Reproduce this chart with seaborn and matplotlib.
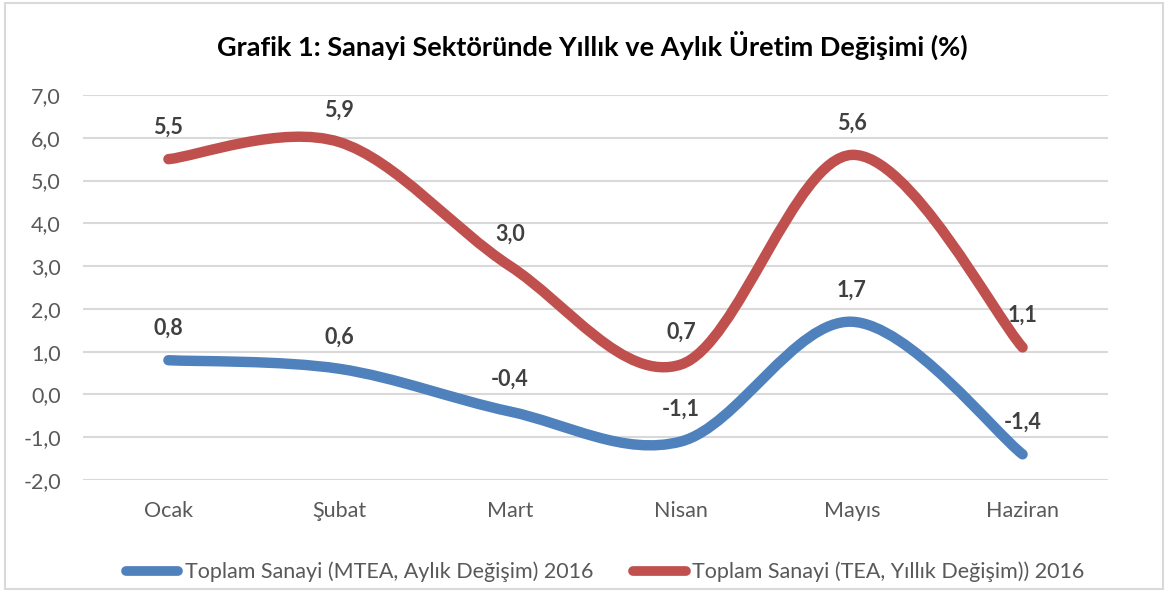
import matplotlib
matplotlib.use("Agg")
import matplotlib.pyplot as plt
from matplotlib.path import Path
from matplotlib.patches import PathPatch, Rectangle
from matplotlib.lines import Line2D
import numpy as np
import pandas as pd
import seaborn as sns

# ─────────────────────────────────────────────
# DATA
# ─────────────────────────────────────────────
months = ["Ocak", "Şubat", "Mart", "Nisan", "Mayıs", "Haziran"]
aylik = [0.8, 0.6, -0.4, -1.1, 1.7, -1.4]      # MTEA, monthly change
yillik = [5.5, 5.9, 3.0, 0.7, 5.6, 1.1]        # TEA, yearly change
series_names = ["Toplam Sanayi (MTEA, Aylık Değişim) 2016",
                "Toplam Sanayi (TEA, Yıllık Değişim)) 2016"]
yticks = [-2, -1, 0, 1, 2, 3, 4, 5, 6, 7]
title = "Grafik 1: Sanayi Sektöründe Yıllık ve Aylık Üretim Değişimi (%)"

BLUE = "#4F81BD"
RED = "#C0504D"
GRAY_TXT = "#595959"
LABEL_TXT = "#404040"
GRID = "#D9D9D9"
FS = 15.5

df = pd.concat([
    pd.DataFrame({"pos": range(len(months)), "value": aylik, "series": series_names[0]}),
    pd.DataFrame({"pos": range(len(months)), "value": yillik, "series": series_names[1]}),
])

sns.set_theme(style="white")
plt.rcParams["font.family"] = ["Lato", "DejaVu Sans"]


def smooth_path(x, y):
    # Excel-like smoothing: cubic bezier with catmull-rom control points
    pts = np.column_stack([x, y])
    n = len(pts)
    verts = [pts[0]]
    codes = [Path.MOVETO]
    for i in range(n - 1):
        p0 = pts[max(i - 1, 0)]
        p1 = pts[i]
        p2 = pts[i + 1]
        p3 = pts[min(i + 2, n - 1)]
        c1 = p1 + (p2 - p0) / 6.0
        c2 = p2 - (p3 - p1) / 6.0
        verts += [c1, c2, p2]
        codes += [Path.CURVE4] * 3
    return Path(verts, codes)


fig = plt.figure(figsize=(11.68, 5.92), dpi=100)
ax = fig.add_axes([83 / 1168, 112 / 592, 1025 / 1168, 385 / 592])

sns.lineplot(data=df, x="pos", y="value", hue="series",
             palette=[BLUE, RED], hue_order=series_names,
             linewidth=7, legend=False, sort=False, errorbar=None, ax=ax)

# replace straight segments with smoothed curves
for line in list(ax.lines):
    x, y = line.get_data()
    patch = PathPatch(smooth_path(np.asarray(x, float), np.asarray(y, float)),
                      fill=False, edgecolor=line.get_color(), lw=7.5,
                      capstyle="round", joinstyle="round", zorder=3)
    ax.add_patch(patch)
    line.set_visible(False)

# data labels
for vals in (aylik, yillik):
    for i, v in enumerate(vals):
        ax.annotate(f"{v:.1f}".replace(".", ","), (i, v),
                    xytext=(0, 23), textcoords="offset points",
                    ha="center", va="center", fontsize=FS,
                    fontweight="bold", color=LABEL_TXT, zorder=4)

ax.set_xlim(-0.5, len(months) - 0.5)
ax.set_ylim(min(yticks), max(yticks))
ax.set_yticks(yticks)
ax.set_yticklabels([f"{t:.1f}".replace(".", ",") for t in yticks])
ax.set_xticks(range(len(months)))
ax.set_xticklabels(months)
ax.tick_params(axis="both", length=0, labelsize=FS, labelcolor=GRAY_TXT)
ax.tick_params(axis="y", pad=16)
ax.tick_params(axis="x", pad=15)
ax.set_xlabel("")
ax.set_ylabel("")
ax.grid(axis="y", color=GRID, linewidth=1.5)
ax.set_axisbelow(True)
for s in ax.spines.values():
    s.set_visible(False)

fig.text(0.507, 1 - 45 / 592, title, ha="center", va="center",
         fontsize=19.5, fontweight="bold", color="black")

handles = [Line2D([], [], color=BLUE, lw=7, solid_capstyle="round"),
           Line2D([], [], color=RED, lw=7, solid_capstyle="round")]
fig.legend(handles, series_names, loc="center", bbox_to_anchor=(0.518, 20 / 592),
           ncol=2, frameon=False, fontsize=FS, labelcolor=GRAY_TXT,
           handlelength=2.45, handletextpad=0.3, columnspacing=1.85,
           borderaxespad=0, borderpad=0)

fig.add_artist(Rectangle((5 / 1168, 3 / 592), 1158 / 1168, 586 / 592,
                         transform=fig.transFigure, fill=False,
                         edgecolor=GRID, linewidth=1.5))

fig.savefig("out.png", dpi=100)
